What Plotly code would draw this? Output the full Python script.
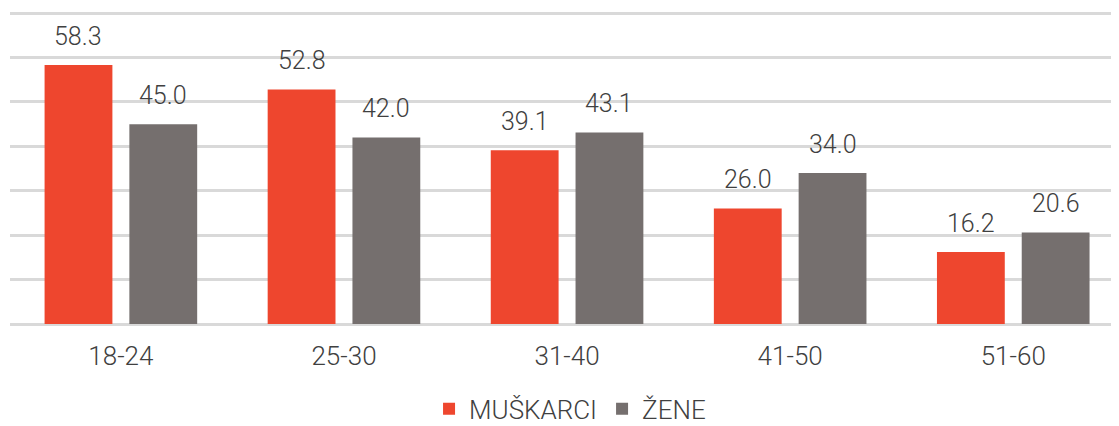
import plotly.graph_objects as go

categories = ["18-24", "25-30", "31-40", "41-50", "51-60"]
muskarci = [58.3, 52.8, 39.1, 26.0, 16.2]
zene = [45.0, 42.0, 43.1, 34.0, 20.6]
series_names = ["MUŠKARCI", "ŽENE"]
colors = ["#ee462e", "#756f6e"]
y_ticks = [0, 10, 20, 30, 40, 50, 60, 70]

FONT = "Roboto"
TXT = "#404040"

fig = go.Figure()
for name, vals, col in zip(series_names, [muskarci, zene], colors):
    fig.add_trace(go.Bar(name=name, x=categories, y=vals, marker=dict(color=col, line=dict(width=0))))

bargap = 0.24
groupgap = 0.2
slot = (1 - bargap) / 2
offsets = [-slot / 2, slot / 2]
for s, vals in enumerate([muskarci, zene]):
    for i, v in enumerate(vals):
        fig.add_annotation(x=i + offsets[s], y=v, xref="x", yref="y", text=f"{v:.1f}",
                           showarrow=False, yanchor="middle", yshift=29,
                           font=dict(family=FONT, size=25, color=TXT, weight=300))

# page body has an 8px margin, so the figure is sized to fit the window from (8, 8)
fig.update_layout(
    width=1111, height=418,
    margin=dict(l=2, r=0, t=4, b=102, autoexpand=False),
    paper_bgcolor="white", plot_bgcolor="white",
    barmode="group", bargap=bargap, bargroupgap=groupgap,
    showlegend=True,
    legend=dict(orientation="h", x=0.505, xanchor="center", y=-0.272, yanchor="middle",
                font=dict(family=FONT, size=26, color=TXT, weight=300), itemclick=False),
    xaxis=dict(type="category", range=[-0.497, 4.474], showgrid=False, showline=False,
               ticks="", ticklabelstandoff=14,
               tickfont=dict(family=FONT, size=26, color=TXT, weight=300)),
    yaxis=dict(range=[0, 70.25], tickvals=y_ticks, showticklabels=False, showgrid=True,
               gridcolor="#d9d9d9", gridwidth=2.5, zeroline=True, zerolinecolor="#d9d9d9",
               zerolinewidth=2.5, showline=False),
)

fig.write_html("out.html")
